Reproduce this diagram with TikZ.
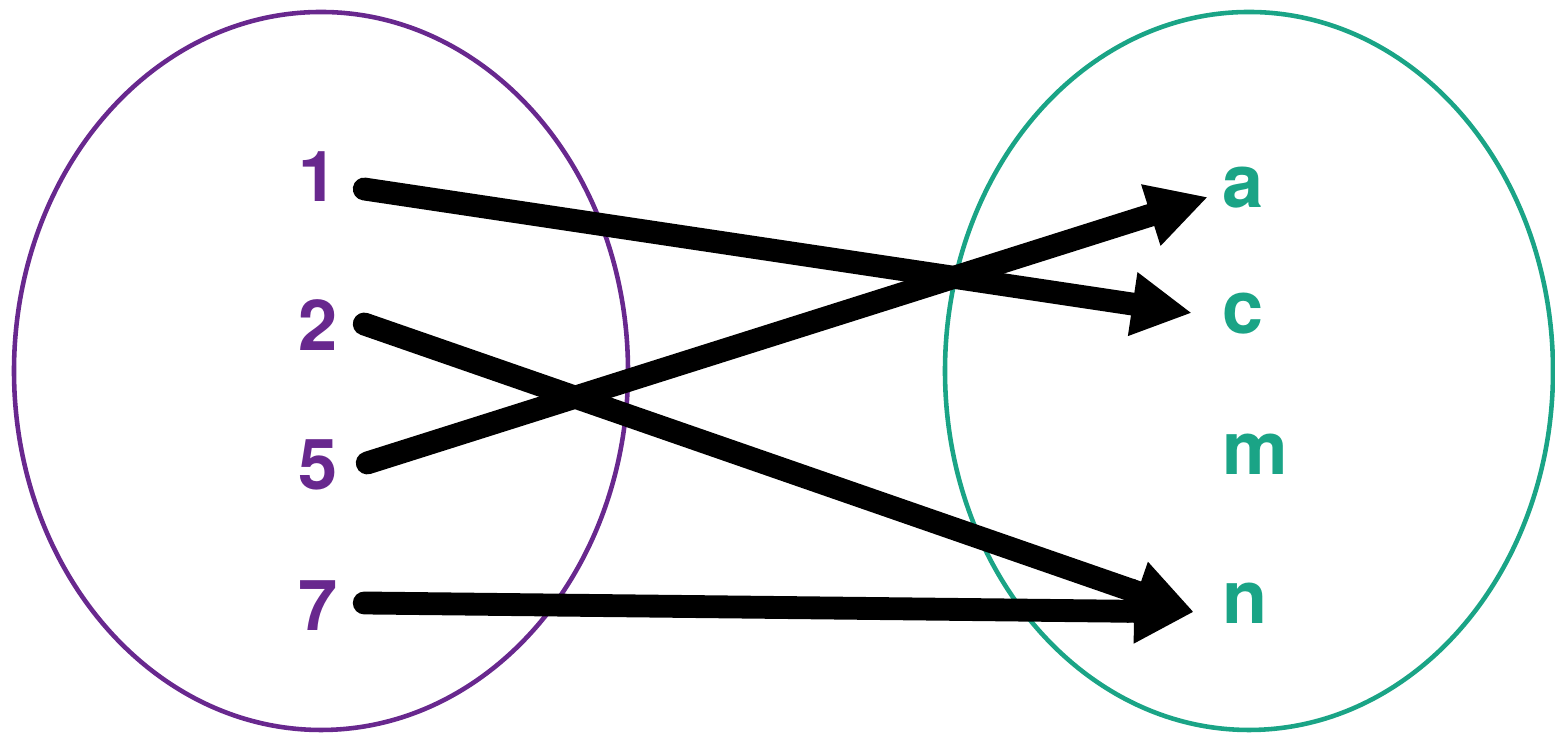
\documentclass[tikz,border=0pt]{standalone}
\usepackage{fontspec}
\setmainfont{TeX Gyre Heros}
\usetikzlibrary{arrows.meta, positioning, calc}
\definecolor{setpurple}{RGB}{104,40,142}
\definecolor{setteal}{RGB}{26,164,134}

\begin{document}
\begin{tikzpicture}[
    dom/.style={font=\fontsize{20}{24}\selectfont\bfseries,text=setpurple,inner sep=0pt},
    cod/.style={font=\fontsize{21}{25}\selectfont\bfseries,text=setteal,inner sep=0pt,anchor=west},
    maparrow/.style={line width=6.5pt,line cap=round,-{Triangle[length=6mm,width=6mm]}}
  ]
          \useasboundingbox (0,0) rectangle (15.55,7.4);
          \draw[setpurple,line width=1.3pt](3.21,3.69) ellipse [x radius=3.07,y radius=3.59];
          \draw[setteal,line width=1.3pt](12.49,3.69) ellipse [x radius=3.04,y radius=3.59];
          % domain
          \node[dom] (d1) at (3.18,5.63) {1};
          \node[dom] (d2) at (3.18,4.15) {2};
          \node[dom] (d5) at (3.18,2.75) {5};
          \node[dom] (d7) at (3.18,1.34) {7};
          % codomain
          \node[cod] (ca) at (12.22,5.52) {a};
          \node[cod] (cc) at (12.22,4.26) {c};
          \node[cod] (cm) at (12.22,2.86) {m};
          \node[cod] (cn) at (12.22,1.37) {n};
          \draw[maparrow]([shift={(0.26,-0.12)}]d1.east)--([shift={(-0.30,0.01)}]cc.west);
          \draw[maparrow]([shift={(0.26,0.01)}]d2.east)--([shift={(-0.28,-0.09)}]cn.west);
          \draw[maparrow]([shift={(0.29,0.02)}]d5.east)--([shift={(-0.14,-0.09)}]ca.west);
          \draw[maparrow]([shift={(0.26,0.03)}]d7.east)--([shift={(-0.28,-0.09)}]cn.west);
        \end{tikzpicture}
\end{document}
